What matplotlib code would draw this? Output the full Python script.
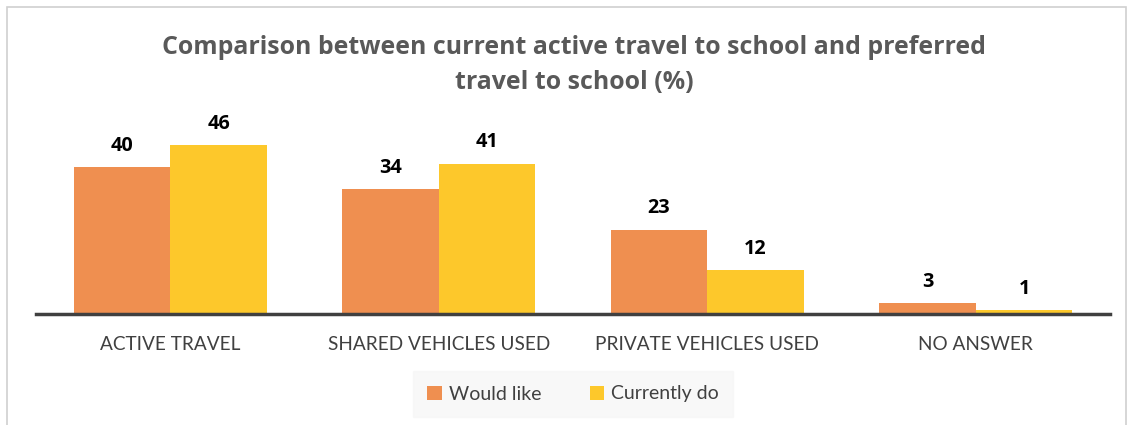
import matplotlib
matplotlib.use("Agg")
import matplotlib.pyplot as plt
from matplotlib.patches import Rectangle
import numpy as np

categories = ["ACTIVE TRAVEL", "SHARED VEHICLES USED", "PRIVATE VEHICLES USED", "NO ANSWER"]
would_like = [40, 34, 23, 3]
currently_do = [46, 41, 12, 1]
series_names = ["Would like", "Currently do"]
title = "Comparison between current active travel to school and preferred\ntravel to school (%)"

c_orange = "#EF8F50"
c_yellow = "#FDC82B"
fam = ["Lato", "DejaVu Sans"]
fam_b = ["Open Sans", "DejaVu Sans"]

W, H = 1130, 425
fig = plt.figure(figsize=(W / 100, H / 100), dpi=100)
fig.patch.set_facecolor("white")

# outer chart border
fig.add_artist(Rectangle((7 / W, -0.01), (1126 - 7) / W, 1 - 7 / H + 0.01,
                         transform=fig.transFigure, fill=False,
                         edgecolor="#D0D0D0", linewidth=1.2))

ax_left, ax_right = 36, 1110
ax_bottom = 314
ax = fig.add_axes([ax_left / W, 1 - ax_bottom / H, (ax_right - ax_left) / W, (ax_bottom - 130) / H])
ymax = (ax_bottom - 130) / 3.67

x = np.arange(len(categories))
bw = 0.36
b1 = ax.bar(x - bw / 2, would_like, bw, color=c_orange, label=series_names[0], zorder=2)
b2 = ax.bar(x + bw / 2, currently_do, bw, color=c_yellow, label=series_names[1], zorder=2)

for bars in (b1, b2):
    for r in bars:
        h = r.get_height()
        ax.annotate(f"{h:g}", (r.get_x() + r.get_width() / 2, h), xytext=(0, 8),
                    textcoords="offset points", ha="center", va="bottom",
                    fontsize=14.3, fontweight="bold", color="black", family=fam_b)

ax.set_xlim(-0.5, len(categories) - 0.5)
ax.set_ylim(0, ymax)
ax.set_yticks([])
for s in ["top", "right", "left"]:
    ax.spines[s].set_visible(False)
ax.spines["bottom"].set_color("#404040")
ax.spines["bottom"].set_linewidth(2.5)
ax.spines["bottom"].set_zorder(3)
ax.set_xticks(x)
ax.set_xticklabels(categories, fontsize=13.7, color="#404040", family=fam)
ax.tick_params(axis="x", length=0, pad=16)
ax.set_facecolor("none")

fig.text(574 / W, 1 - 65 / H, title, ha="center", va="center", fontsize=17.9,
         fontweight="bold", color="#595959", family=fam_b, linespacing=1.55)

leg = fig.legend(handles=[b1, b2], labels=series_names, loc="center",
                 bbox_to_anchor=(573 / W, 1 - 394 / H), ncol=2, frameon=True,
                 handlelength=0.75, handleheight=0.75,
                 columnspacing=2.5, handletextpad=0.35, borderpad=0.75,
                 borderaxespad=0, prop={"family": fam, "size": 14})
leg.get_frame().set_facecolor("#F7F7F7")
leg.get_frame().set_edgecolor("#F7F7F7")
leg.get_frame().set_boxstyle("square", pad=0)
for t in leg.get_texts():
    t.set_color("#404040")

fig.savefig("out.png", dpi=100, facecolor="white")
